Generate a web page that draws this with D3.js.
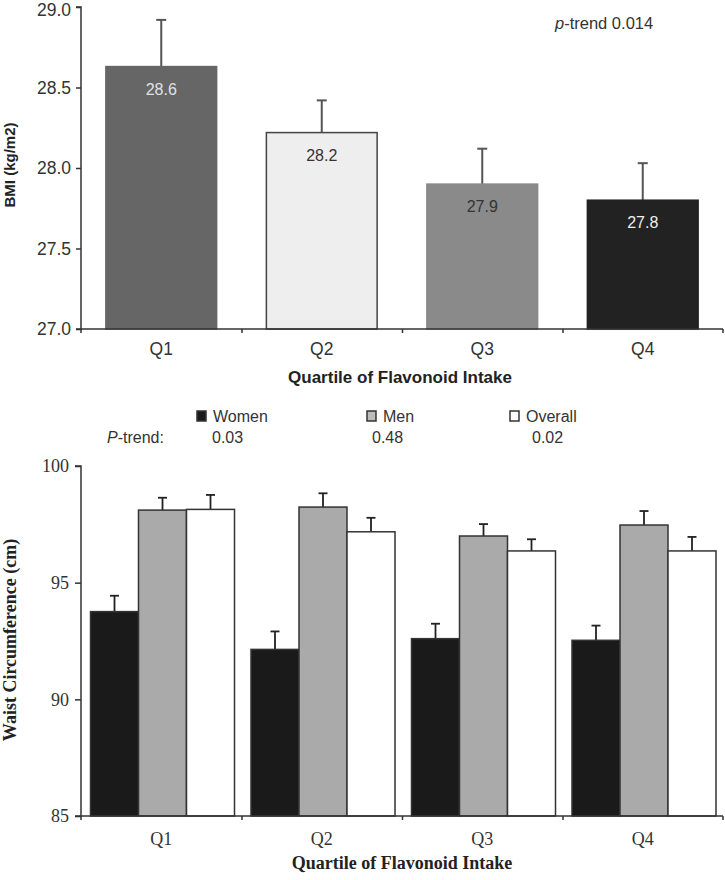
<!DOCTYPE html>
<html>
<head>
<meta charset="utf-8">
<script src="https://cdn.jsdelivr.net/npm/d3@7"></script>
<style>
  html, body { margin: 0; padding: 0; background: #fff; }
  svg { display: block; }
</style>
</head>
<body>
<svg id="chart" width="725" height="880"></svg>
<script>
// ---------- Data ----------
const quartiles = ["Q1", "Q2", "Q3", "Q4"];
const bmiValues = [28.63, 28.22, 27.90, 27.80];
const bmiErrors = [0.29, 0.20, 0.22, 0.23];
const bmiLabels = ["28.6", "28.2", "27.9", "27.8"];
const bmiTicks = [27.0, 27.5, 28.0, 28.5, 29.0];

const series = ["Women", "Men", "Overall"];
const pTrends = ["0.03", "0.48", "0.02"];
const womenWaist = [93.76, 92.14, 92.60, 92.53];
const menWaist = [98.11, 98.24, 97.00, 97.47];
const overallWaist = [98.14, 97.18, 96.36, 96.36];
const womenErr = [0.68, 0.77, 0.64, 0.63];
const menErr = [0.53, 0.59, 0.51, 0.60];
const overallErr = [0.62, 0.60, 0.50, 0.60];
const waistTicks = [85, 90, 95, 100];

// ---------- Styles ----------
const bmiFill = ["#666666", "#eeeeee", "#8a8a8a", "#222222"];
const bmiLabelColor = ["#e2e2e2", "#333333", "#333333", "#eeeeee"];
const seriesFill = ["#1a1a1a", "#aaaaaa", "#ffffff"];
const sans = "Arial, 'Liberation Sans', sans-serif";
const serif = "'Liberation Serif', 'DejaVu Serif', serif";

const svg = d3.select("#chart");

// ================= TOP CHART =================
const topG = svg.append("g");
const xTop = d3.scaleBand().domain(quartiles).range([81, 723]).padding(0);
const yTop = d3.scaleLinear().domain([27, 29]).range([329, 7]);
const barW = xTop.bandwidth() * 0.69;

const topData = quartiles.map((q, i) => ({ q, v: bmiValues[i], e: bmiErrors[i], lab: bmiLabels[i], i }));

const eg = topG.append("g").attr("stroke", "#555").attr("stroke-width", 2);
topData.forEach(d => {
  const cx = xTop(d.q) + xTop.bandwidth() / 2;
  eg.append("line").attr("x1", cx).attr("x2", cx).attr("y1", yTop(d.v)).attr("y2", yTop(d.v + d.e));
  eg.append("line").attr("x1", cx - 5).attr("x2", cx + 5).attr("y1", yTop(d.v + d.e)).attr("y2", yTop(d.v + d.e));
});

topG.append("g").selectAll("rect").data(topData).join("rect")
  .attr("x", d => xTop(d.q) + (xTop.bandwidth() - barW) / 2)
  .attr("y", d => yTop(d.v))
  .attr("width", barW)
  .attr("height", d => yTop(27) - yTop(d.v))
  .attr("fill", d => bmiFill[d.i])
  .attr("stroke", d => d.i === 1 ? "#444" : bmiFill[d.i])
  .attr("stroke-width", 1.5);

topG.append("g").selectAll("text").data(topData).join("text")
  .attr("x", d => xTop(d.q) + xTop.bandwidth() / 2)
  .attr("y", d => yTop(d.v) + 28)
  .attr("text-anchor", "middle")
  .attr("font-family", sans).attr("font-size", 16)
  .attr("fill", d => bmiLabelColor[d.i])
  .text(d => d.lab);

const yAxisTop = topG.append("g").attr("transform", "translate(81,0)")
  .call(d3.axisLeft(yTop).tickValues(bmiTicks).tickFormat(d3.format(".1f")).tickSize(5).tickPadding(5));
const xAxisTop = topG.append("g").attr("transform", "translate(0,329)")
  .call(d3.axisBottom(xTop).tickSize(0).tickPadding(14));
topG.append("g").selectAll("line").data([81, 242, 402.5, 563, 723]).join("line")
  .attr("x1", d => d).attr("x2", d => d).attr("y1", 329).attr("y2", 333)
  .attr("stroke", "#333").attr("stroke-width", 1.5);
[yAxisTop, xAxisTop].forEach(a => {
  a.select(".domain").attr("stroke", "#333").attr("stroke-width", 1.5);
  a.selectAll(".tick line").attr("stroke", "#333").attr("stroke-width", 1.5);
  a.selectAll(".tick text").attr("font-family", sans).attr("font-size", 17.5).attr("fill", "#333");
});
yAxisTop.selectAll(".tick text").filter(d => d === 29).attr("dy", "0.5em");
yAxisTop.select(".domain").attr("d", "M-5,7H0V329H-5");
xAxisTop.select(".domain").attr("d", "M81,0H723");

topG.append("text")
  .attr("transform", "translate(15,165) rotate(-90)")
  .attr("text-anchor", "middle")
  .attr("font-family", sans).attr("font-size", 15).attr("font-weight", "bold")
  .attr("fill", "#222")
  .text("BMI (kg/m2)");

topG.append("text")
  .attr("x", 400).attr("y", 383)
  .attr("text-anchor", "middle")
  .attr("font-family", sans).attr("font-size", 17).attr("font-weight", "bold")
  .attr("fill", "#222")
  .text("Quartile of Flavonoid Intake");

const pt = topG.append("text")
  .attr("x", 555).attr("y", 29)
  .attr("font-family", sans).attr("font-size", 16.5).attr("fill", "#333");
pt.append("tspan").attr("font-style", "italic").text("p");
pt.append("tspan").text("-trend 0.014");

// ================= LEGEND =================
const legX = [197, 367, 510];
const leg = svg.append("g");
series.forEach((s, i) => {
  leg.append("rect").attr("x", legX[i]).attr("y", 411).attr("width", 9).attr("height", 10)
    .attr("fill", seriesFill[i] === "#aaaaaa" ? "#bbbbbb" : seriesFill[i])
    .attr("stroke", "#333").attr("stroke-width", 1.5);
  leg.append("text").attr("x", legX[i] + 16).attr("y", 422)
    .attr("font-family", sans).attr("font-size", 16).attr("fill", "#333").text(s);
  leg.append("text").attr("x", [212, 372, 532][i]).attr("y", 443)
    .attr("font-family", sans).attr("font-size", 16).attr("fill", "#333").text(pTrends[i]);
});
const pl = leg.append("text").attr("x", 107).attr("y", 443)
  .attr("font-family", sans).attr("font-size", 16).attr("fill", "#333");
pl.append("tspan").attr("font-style", "italic").text("P");
pl.append("tspan").text("-trend:");

// ================= BOTTOM CHART =================
const bot = svg.append("g");
const x0 = d3.scaleBand().domain(quartiles).range([81, 723]).padding(0);
const x1 = d3.scaleBand().domain(series).range([9.5, 153.5]).padding(0);
const yBot = d3.scaleLinear().domain([85, 100]).range([816, 466]);

const vals = [womenWaist, menWaist, overallWaist];
const errs = [womenErr, menErr, overallErr];
const botData = [];
quartiles.forEach((q, qi) => series.forEach((s, si) => {
  botData.push({ q, s, si, v: vals[si][qi], e: errs[si][qi] });
}));

const eb = bot.append("g").attr("stroke", "#222").attr("stroke-width", 1.8);
botData.forEach(d => {
  const cx = x0(d.q) + x1(d.s) + x1.bandwidth() / 2;
  eb.append("line").attr("x1", cx).attr("x2", cx).attr("y1", yBot(d.v)).attr("y2", yBot(d.v + d.e));
  eb.append("line").attr("x1", cx - 4.5).attr("x2", cx + 4.5).attr("y1", yBot(d.v + d.e)).attr("y2", yBot(d.v + d.e));
});

bot.append("g").selectAll("rect").data(botData).join("rect")
  .attr("x", d => x0(d.q) + x1(d.s))
  .attr("y", d => yBot(d.v))
  .attr("width", x1.bandwidth())
  .attr("height", d => yBot(85) - yBot(d.v))
  .attr("fill", d => seriesFill[d.si])
  .attr("stroke", "#333").attr("stroke-width", 1.5);

const yAxisBot = bot.append("g").attr("transform", "translate(81,0)")
  .call(d3.axisLeft(yBot).tickValues(waistTicks).tickSize(6).tickPadding(6));
const xAxisBot = bot.append("g").attr("transform", "translate(0,816)")
  .call(d3.axisBottom(x0).tickSize(0).tickPadding(16));
bot.append("g").selectAll("line").data([81, 242, 402.5, 563, 723]).join("line")
  .attr("x1", d => d).attr("x2", d => d).attr("y1", 816).attr("y2", 820)
  .attr("stroke", "#333").attr("stroke-width", 1.5);
[yAxisBot, xAxisBot].forEach(a => {
  a.select(".domain").attr("stroke", "#333").attr("stroke-width", 1.5);
  a.selectAll(".tick line").attr("stroke", "#333").attr("stroke-width", 1.5);
  a.selectAll(".tick text").attr("font-family", serif).attr("font-size", 18).attr("fill", "#333");
});
yAxisBot.select(".domain").attr("d", "M-6,466H0V816H-6");
xAxisBot.select(".domain").attr("d", "M81,0H723");

bot.append("text")
  .attr("transform", "translate(16,640) rotate(-90)")
  .attr("text-anchor", "middle")
  .attr("font-family", serif).attr("font-size", 18).attr("font-weight", "bold")
  .attr("fill", "#222")
  .text("Waist Circumference (cm)");

bot.append("text")
  .attr("x", 402).attr("y", 869)
  .attr("text-anchor", "middle")
  .attr("font-family", serif).attr("font-size", 18).attr("font-weight", "bold")
  .attr("fill", "#222")
  .text("Quartile of Flavonoid Intake");
</script>
</body>
</html>
